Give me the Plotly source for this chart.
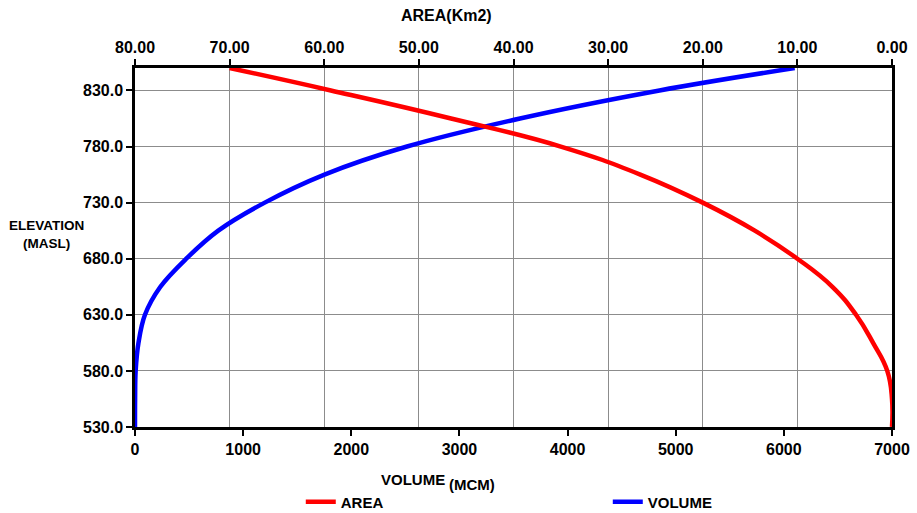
import plotly.graph_objects as go

# ---- data ----
elevation = [530, 555, 580, 605, 630, 655, 680, 705, 730, 755, 780, 805, 830, 850]
area_km2 = [0.0, 0.0, 0.5, 2.0, 3.8, 6.3, 10.0, 14.5, 20.0, 26.6, 35.0, 46.6, 59.3, 70.0]
volume_mcm = [0, 1, 6, 32, 92, 235, 474, 770, 1200, 1752, 2515, 3560, 4850, 6100]

volume_ticks = [0, 1000, 2000, 3000, 4000, 5000, 6000, 7000]
area_ticks = [80, 70, 60, 50, 40, 30, 20, 10, 0]
elev_ticks = [530, 580, 630, 680, 730, 780, 830]

FONT = "Liberation Sans, Arial, sans-serif"
tickfont = dict(family=FONT, size=16, color="black", weight="bold")
GRID = "#8c8c8c"

fig = go.Figure()
fig.add_trace(go.Scatter(
    x=area_km2, y=elevation, xaxis="x2", yaxis="y", mode="lines", name="AREA",
    line=dict(color="#ff0000", width=4.5, shape="spline", smoothing=1.3)))
fig.add_trace(go.Scatter(
    x=volume_mcm, y=elevation, xaxis="x", yaxis="y", mode="lines", name="VOLUME",
    line=dict(color="#0000ff", width=4.5, shape="spline", smoothing=1.0)))

fig.update_layout(
    width=917, height=513,
    margin=dict(l=135, r=25, t=68, b=86, autoexpand=False),
    paper_bgcolor="white", plot_bgcolor="white",
    font=dict(family=FONT, color="black"),
    xaxis=dict(range=[0, 7000], tickvals=volume_ticks, tickformat="d",
               showgrid=False, zeroline=False, showline=True, linecolor="black",
               linewidth=2.5, ticks="outside", ticklen=6, tickwidth=2,
               tickcolor="black", tickfont=tickfont),
    xaxis2=dict(range=[80, 0], tickvals=area_ticks, tickformat=".2f",
                overlaying="x", side="top", anchor="y",
                showgrid=True, gridcolor=GRID, gridwidth=1.2, zeroline=False,
                showline=True, linecolor="black", linewidth=2.5,
                ticks="outside", ticklen=6, tickwidth=2, tickcolor="black",
                tickfont=tickfont),
    yaxis=dict(range=[530, 850], tickvals=elev_ticks, tickformat=".1f",
               showgrid=True, gridcolor=GRID, gridwidth=1.2, zeroline=False,
               showline=True, mirror=True, linecolor="black", linewidth=2.5,
               ticks="outside", ticklen=6, tickwidth=2, tickcolor="black",
               tickfont=tickfont),
    legend=dict(orientation="h", x=0.219, xanchor="left", y=-0.209, yanchor="middle",
                font=dict(family=FONT, size=15, color="black", weight="bold"),
                entrywidth=262, entrywidthmode="pixels", bgcolor="rgba(0,0,0,0)"),
    annotations=[
        dict(text="<b>AREA</b><b>(Km2)</b>", x=0.4117, y=1.1475, xref="paper", yref="paper",
             xanchor="center", yanchor="middle", showarrow=False,
             font=dict(family=FONT, size=16, color="black")),
        dict(text="<b>VOLUME</b>", x=0.4117, y=-0.1467, xref="paper", yref="paper",
             xanchor="right", yanchor="middle", showarrow=False,
             font=dict(family=FONT, size=15, color="black")),
        dict(text="<b>(MCM)</b>", x=0.4117, y=-0.1606, xref="paper", yref="paper",
             xanchor="left", yanchor="middle", showarrow=False,
             font=dict(family=FONT, size=15, color="black")),
        dict(text="<b>ELEVATION</b><br><b>(MASL)</b>", x=-0.1168, y=0.535,
             xref="paper", yref="paper", xanchor="center", yanchor="middle",
             showarrow=False, align="center",
             font=dict(family=FONT, size=13.5, color="black")),
    ],
)

fig.write_html("out.html")
